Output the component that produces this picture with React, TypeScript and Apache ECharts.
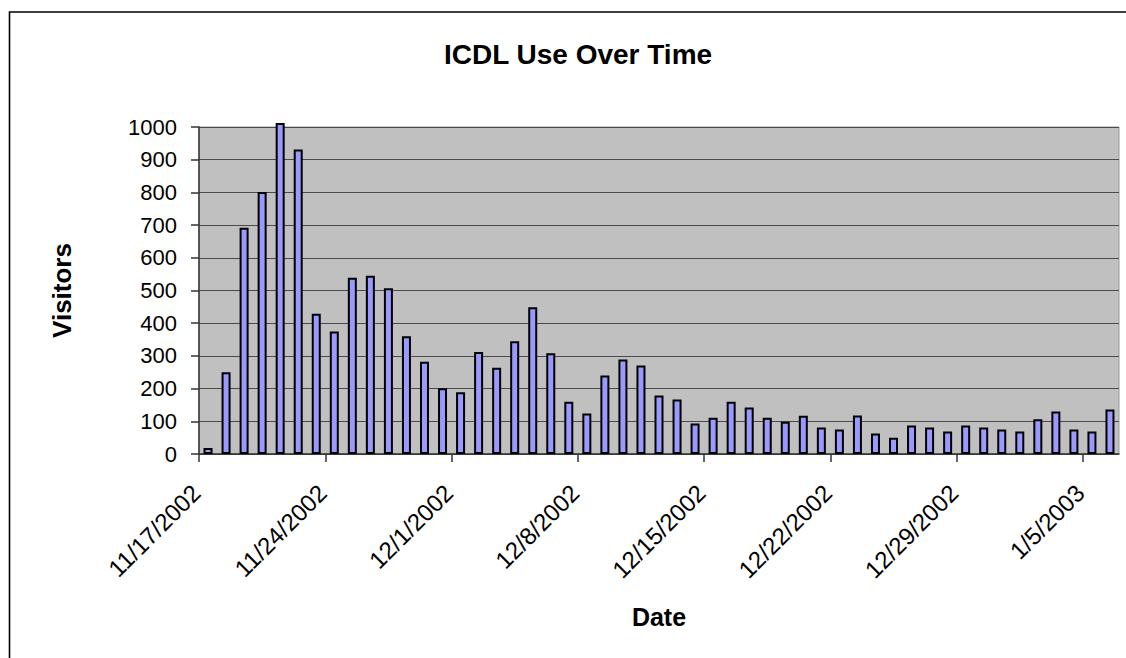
import React, { useEffect, useRef } from "react";
import * as echarts from "echarts";

const dates = [
  "11/17/2002", "11/18/2002", "11/19/2002", "11/20/2002", "11/21/2002", "11/22/2002", "11/23/2002",
  "11/24/2002", "11/25/2002", "11/26/2002", "11/27/2002", "11/28/2002", "11/29/2002", "11/30/2002",
  "12/1/2002", "12/2/2002", "12/3/2002", "12/4/2002", "12/5/2002", "12/6/2002", "12/7/2002",
  "12/8/2002", "12/9/2002", "12/10/2002", "12/11/2002", "12/12/2002", "12/13/2002", "12/14/2002",
  "12/15/2002", "12/16/2002", "12/17/2002", "12/18/2002", "12/19/2002", "12/20/2002", "12/21/2002",
  "12/22/2002", "12/23/2002", "12/24/2002", "12/25/2002", "12/26/2002", "12/27/2002", "12/28/2002",
  "12/29/2002", "12/30/2002", "12/31/2002", "1/1/2003", "1/2/2003", "1/3/2003", "1/4/2003",
  "1/5/2003", "1/6/2003",
];

const visitors = [
  18, 250, 692, 801, 1012, 931, 429,
  375, 539, 545, 507, 360, 282, 201,
  189, 312, 264, 345, 449, 308, 160,
  124, 240, 289, 271, 179, 167, 93,
  111, 160, 142, 111, 99, 117, 81,
  75, 118, 63, 50, 87, 81, 69,
  87, 81, 75, 69, 106, 130, 75,
  69, 136,
];

const tickLabels = [
  "11/17/2002", "11/24/2002", "12/1/2002", "12/8/2002",
  "12/15/2002", "12/22/2002", "12/29/2002", "1/5/2003",
];

const yTicks = [0, 100, 200, 300, 400, 500, 600, 700, 800, 900, 1000];

const FONT = "'Liberation Sans', Arial, sans-serif";

export default function App() {
  const ref = useRef<HTMLDivElement>(null);

  useEffect(() => {
    if (!ref.current) return;
    const chart = echarts.init(ref.current, null, { renderer: "svg" });
    const tickPositions = tickLabels.map((lbl) => dates.indexOf(lbl));
    const option = {
      animation: false,
      backgroundColor: "#ffffff",
      title: {
        text: "ICDL Use Over Time",
        left: 573,
        top: 35,
        textAlign: "center",
        textStyle: { fontFamily: FONT, fontWeight: "bold", fontSize: 28, color: "#000" },
      },
      graphic: [
        {
          type: "rect",
          shape: { x: 9.5, y: 12, width: 1300, height: 800 },
          style: { fill: "none", stroke: "#000", lineWidth: 1.6 },
          silent: true,
        },
      ],
      grid: {
        left: 199,
        top: 127,
        right: 7,
        bottom: 204,
        show: true,
        backgroundColor: "#c0c0c0",
        borderColor: "#9a9a9a",
        borderWidth: 1,
      },
      xAxis: {
        type: "value",
        min: 0,
        max: dates.length,
        interval: 7,
        name: "Date",
        nameLocation: "middle",
        nameGap: 150,
        nameTextStyle: { fontFamily: FONT, fontWeight: "bold", fontSize: 25, color: "#000" },
        axisLine: { show: true, lineStyle: { color: "#333", width: 1.5 } },
        axisTick: {
          show: true,
          length: 8,
          lineStyle: { color: "#333", width: 1.5 },
          customValues: tickPositions,
        },
        axisLabel: {
          rotate: 45,
          margin: 32,
          padding: [0, 4, 0, 0],
          fontFamily: FONT,
          fontSize: 24,
          color: "#000",
          customValues: tickPositions,
          formatter: (v: number) => dates[Math.round(v)] ?? "",
        },
        splitLine: { show: false },
      },
      yAxis: {
        type: "value",
        min: 0,
        max: 1000,
        interval: 100,
        name: "Visitors",
        nameLocation: "middle",
        nameGap: 124,
        nameTextStyle: { fontFamily: FONT, fontWeight: "bold", fontSize: 26, color: "#000" },
        axisLine: { show: true, lineStyle: { color: "#333", width: 1.5 } },
        axisTick: { show: true, length: 8, lineStyle: { color: "#333", width: 1.5 } },
        axisLabel: {
          margin: 22,
          fontFamily: FONT,
          fontSize: 22,
          color: "#000",
          formatter: (v: number) => (yTicks.includes(v) ? String(v) : ""),
        },
        splitLine: { show: true, lineStyle: { color: "#4a4a4a", width: 1.2 } },
      },
      series: [
        {
          type: "bar",
          data: visitors.map((v, i) => [i + 0.5, v]),
          barWidth: 9,
          clip: false,
          itemStyle: { color: "#9999ff", borderColor: "#000", borderWidth: 2 },
        },
      ],
    };
    chart.setOption(option as any);
    return () => chart.dispose();
  }, []);

  return (
    <div
      ref={ref}
      style={{ position: "fixed", left: 0, top: 0, width: 1126, height: 658, background: "#fff" }}
    />
  );
}
